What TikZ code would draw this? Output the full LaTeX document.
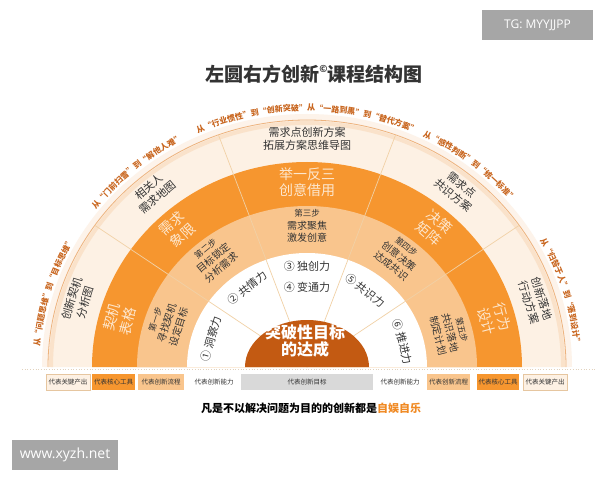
\documentclass[tikz,border=0pt]{standalone}
\usepackage{fontspec}
\setmainfont{Noto Sans CJK SC}
\newfontfamily\arcfam{Noto Sans CJK SC}
\newfontfamily\webfam{Open Sans}
\usetikzlibrary{calc}
\usetikzlibrary{decorations.text}

\definecolor{creamc}{HTML}{FDF1E4}
\definecolor{orangec}{HTML}{F6962F}
\definecolor{lightc}{HTML}{F9C58D}
\definecolor{corec}{HTML}{C35A12}
\definecolor{divc}{HTML}{F1D1A6}
\definecolor{arcc}{HTML}{C9661F}
\definecolor{inkc}{HTML}{333333}
\definecolor{tooltextc}{HTML}{FDE7CE}
\definecolor{greyc}{HTML}{D9D9D9}
\definecolor{badgec}{HTML}{A6A6A6}
\definecolor{slogc}{HTML}{F08A24}
\definecolor{rimc}{HTML}{EDB37E}
\definecolor{glowc}{HTML}{FAE2CA}
\definecolor{haloc}{HTML}{FDF3EA}
\definecolor{keyedge}{HTML}{E6C6A0}
\definecolor{dotc}{HTML}{E2D2BE}

\newcommand\arcstyle{\arcfam\bfseries\fontsize{8}{8}\selectfont\color{arcc}}
\newcommand\stepno[1]{{\fontsize{8.5}{10}\selectfont #1}}

\begin{document}
\begin{tikzpicture}[x=1pt, y=1pt,
    divline/.style={draw=divc, line width=0.7pt},
    arctext/.style={decorate, decoration={text along path, text align=center}},
    outtext/.style={text=inkc, align=center, font=\fontsize{11}{13.5}\selectfont},
    tooltext/.style={text=tooltextc, align=center, font=\fontsize{14}{16.5}\selectfont},
    steptext/.style={text=inkc, align=center, font=\fontsize{10}{12.5}\selectfont},
    skilltext/.style={text=inkc, align=center, font=\fontsize{11}{21}\selectfont},
    keybox/.style={minimum height=16pt, inner sep=0pt, text=inkc, font=\fontsize{6.5}{7}\selectfont},
    outkey/.style={keybox, fill=creamc, draw=keyedge, line width=0.5pt},
    toolkey/.style={keybox, fill=orangec},
    stepkey/.style={keybox, fill=lightc},
    skillkey/.style={keybox, fill=white},
    goalkey/.style={keybox, fill=greyc},
    badge/.style={fill=badgec, text=white, inner sep=0pt, minimum height=30pt}]

\useasboundingbox (0,0) rectangle (600,480);
\fill[white] (0,0) rectangle (600,480);

\coordinate (c) at (307,113);

% rings, outside in
\draw[haloc, line width=6pt] (c) ++(262,0) arc[start angle=0, end angle=180, x radius=262, y radius=250];
\fill[creamc] (c) ++(259,0) arc[start angle=0, end angle=180, x radius=259, y radius=247] -- cycle;
\draw[glowc, line width=4pt] (c) ++(256,0) arc[start angle=0, end angle=180, x radius=256, y radius=244];
\draw[rimc, line width=0.8pt] (c) ++(259,0) arc[start angle=0, end angle=180, x radius=259, y radius=247];
\foreach \rx/\ry/\col in {215/205/orangec, 170/161/lightc, 120/114/white}
    \fill[\col] (c) ++(\rx,0) arc[start angle=0, end angle=180, x radius=\rx, y radius=\ry] -- cycle;
\foreach \a in {35,70,110,145}
    \draw[divline] (c) -- ++(\a:259 and 247);
\fill[corec] (c) ++(62,0) arc[start angle=0, end angle=180, x radius=62, y radius=47] -- cycle;

% texts on the rim
\path[arctext, decoration={text={|\arcstyle|从“问题思维”到“目标思维”}}]
    (c) ++(193:268 and 256) arc[start angle=193, end angle=133, x radius=268, y radius=256];
\path[arctext, decoration={text={|\arcstyle|从“门前扫雪”到“解他人难”}}]
    (c) ++(160:268 and 256) arc[start angle=160, end angle=100, x radius=268, y radius=256];
\path[arctext, decoration={text={|\arcstyle|从“行业惯性”到“创新突破”从“一路到黑”到“替代方案”}}]
    (c) ++(122:268 and 256) arc[start angle=122, end angle=58, x radius=268, y radius=256];
\path[arctext, decoration={text={|\arcstyle|从“感性判断”到“统一标准”}}]
    (c) ++(82:268 and 256) arc[start angle=82, end angle=22, x radius=268, y radius=256];
\path[arctext, decoration={text={|\arcstyle|从“归咎于人”到“落到设计”}}]
    (c) ++(47:268 and 256) arc[start angle=47, end angle=-13, x radius=268, y radius=256];

% sector texts
\foreach \a/\txt [count=\i] in {163/{创新契机\\分析图}, 130/{相关人\\需求地图},
        90/{需求点创新方案\\拓展方案思维导图}, 51/{需求点\\共识方案}, 17/{创新落地\\行动方案}}
    \node[outtext, rotate=\a-90] (out-\i) at ($(c)+(\a:239 and 228)$) {\txt};
\foreach \a/\txt [count=\i] in {165/{契机\\表格}, 132/{需求\\象限},
        90/{举一反三\\创意借用}, 49/{决策\\矩阵}, 15/{行为\\设计}}
    \node[tooltext, rotate=\a-90] (tool-\i) at ($(c)+(\a:194 and 185)$) {\txt};
\foreach \a/\txt [count=\i] in {162/{\stepno{第一步}\\寻找契机\\设定目标}, 129.5/{\stepno{第二步}\\目标锁定\\分析需求},
        90/{\stepno{第三步}\\需求聚焦\\激发创意}, 51.5/{\stepno{第四步}\\创意决策\\达成共识}, 14/{\stepno{第五步}\\共识落地\\制定计划}}
    \node[steptext, rotate=\a-90] (step-\i) at ($(c)+(\a:147 and 141)$) {\txt};
\foreach \a/\r/\txt [count=\i] in {163.5/100/{① 洞察力}, 127/99/{② 共情力},
        90/90/{③ 独创力\\④ 变通力}, 52.8/96/{⑤ 共识力}, 14.7/99/{⑥ 推进力}}
    \node[skilltext, rotate=\a-90] (skill-\i) at ($(c)+(\a:\r)$) {\txt};
\node[text=white, align=center, font=\bfseries\fontsize{16}{17.5}\selectfont] (goal) at ($(c)+(-2,26)$) {突破性目标\\的达成};

% title and slogan
\node[text=inkc, font=\bfseries\fontsize{19}{21}\selectfont] (title) at (314,406)
    {左圆右方创新\raisebox{0.45em}{\fontsize{9.5}{9.5}\selectfont ©}课程结构图};
\node[text=black, font=\bfseries\fontsize{11}{13}\selectfont] (slogan) at (311,72)
    {凡是不以解决问题为目的的创新都是\textcolor{slogc}{自娱自乐}};

% key
\draw[dotc, dotted, line width=0.7pt] (22,111) -- (597,111);
\foreach \x/\w/\sty/\txt [count=\i] in {68/44/outkey/代表关键产出, 113.5/43/toolkey/代表核心工具,
        161/46/stepkey/代表创新流程, 214/48/skillkey/代表创新能力, 307/132/goalkey/代表创新目标,
        400/50/skillkey/代表创新能力, 448.5/43/stepkey/代表创新流程, 498/42/toolkey/代表核心工具,
        545/44/outkey/代表关键产出}
    \node[\sty, minimum width=\w] (key-\i) at (\x,98) {\txt};

% marks
\node[badge, minimum width=111pt, font=\webfam\fontsize{12}{14}\selectfont] (tg) at (537.5,455) {TG: MYYJJPP};
\node[badge, minimum width=106pt, font=\webfam\fontsize{14}{16}\selectfont] (web) at (65,25) {www.xyzh.net};
\end{tikzpicture}
\end{document}
